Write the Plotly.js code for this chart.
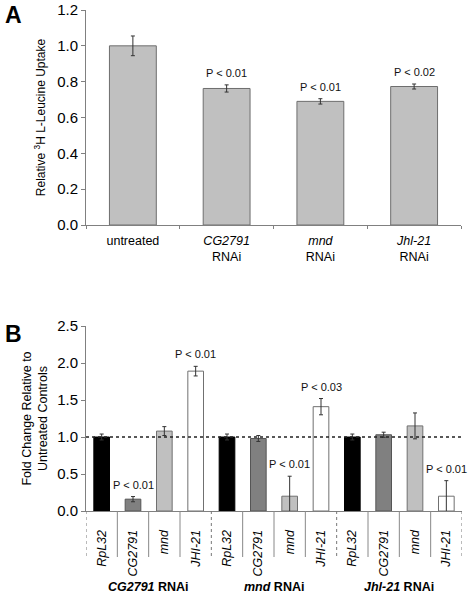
<!DOCTYPE html>
<html><head><meta charset="utf-8">
<script src="https://cdn.plot.ly/plotly-3.0.1.min.js"></script>
<style>html,body{margin:0;padding:0;background:#fff}#c{width:470px;height:600px}</style>
</head><body><div id="c"></div>
<script>
// Panel A data
var catsA = ["untreated", "<i>CG2791</i><br>RNAi", "<i>mnd</i><br>RNAi", "<i>Jhl-21</i><br>RNAi"];
var valsA = [1.0, 0.762, 0.69, 0.773];
var errA = [0.055, 0.02, 0.015, 0.014];
var pA = ["", "P < 0.01", "P < 0.01", "P < 0.02"];
var yTicksA = [0, 0.2, 0.4, 0.6, 0.8, 1.0, 1.2];

// Panel B data
var genesB = ["RpL32", "CG2791", "mnd", "JHI-21"];
var groupsB = ["<i>CG2791</i> RNAi", "<i>mnd</i> RNAi", "<i>Jhl-21</i> RNAi"];
var valsB = [[1.0, 0.16, 1.08, 1.89], [1.0, 0.98, 0.2, 1.41], [1.0, 1.03, 1.15, 0.2]];
var errB = [[0.04, 0.035, 0.06, 0.065], [0.04, 0.04, 0.27, 0.11], [0.04, 0.035, 0.175, 0.21]];
var pB = [["", "P < 0.01", "", "P < 0.01"], ["", "", "P < 0.01", "P < 0.03"], ["", "", "", "P < 0.01"]];
var yTicksB = [0, 0.5, 1.0, 1.5, 2.0, 2.5];
var refLineB = 1.0;

var colorsB = ["#000000", "#808080", "#c0c0c0", "#ffffff"];
var edgesB = ["#000000", "#555555", "#707070", "#707070"];

var FONT = "Liberation Sans, Arial, sans-serif";
var W = 470, H = 600;
function py(pix) { return (H - pix) / H; }
function px(pix) { return pix / W; }

var traces = [];
traces.push({
  type: "bar", x: catsA, y: valsA, xaxis: "x", yaxis: "y", width: 0.5,
  marker: {color: "#c0c0c0", line: {color: "#6e6e6e", width: 1}},
  error_y: {type: "data", array: errA, visible: true, color: "#333", thickness: 1, width: 2},
  hoverinfo: "skip", showlegend: false
});

var nG = genesB.length;
var tickvals = [], ticktext = [];
for (var g = 0; g < groupsB.length; g++) {
  for (var k = 0; k < nG; k++) { tickvals.push(g * nG + k); ticktext.push("<i>" + genesB[k] + "</i>"); }
}
for (var k = 0; k < nG; k++) {
  var xs = [], ys = [], es = [];
  for (var g = 0; g < groupsB.length; g++) { xs.push(g * nG + k); ys.push(valsB[g][k]); es.push(errB[g][k]); }
  traces.push({
    type: "bar", x: xs, y: ys, xaxis: "x2", yaxis: "y2", width: 0.5,
    marker: {color: colorsB[k], line: {color: edgesB[k], width: 1}},
    error_y: {type: "data", array: es, visible: true, color: "#333", thickness: 1, width: 2},
    hoverinfo: "skip", showlegend: false
  });
}

var annotations = [];
for (var i = 0; i < catsA.length; i++) {
  if (pA[i]) annotations.push({xref: "x", yref: "y", x: catsA[i], y: valsA[i] + errA[i], text: pA[i],
    showarrow: false, yanchor: "bottom", yshift: 4, font: {family: FONT, size: 11, color: "#111"}});
}
for (var g = 0; g < groupsB.length; g++) {
  for (var k = 0; k < nG; k++) {
    if (pB[g][k]) annotations.push({xref: "x2", yref: "y2", x: g * nG + k, y: valsB[g][k] + errB[g][k], text: pB[g][k],
      showarrow: false, yanchor: "bottom", yshift: 4, font: {family: FONT, size: 11, color: "#111"}});
  }
  annotations.push({xref: "x2", yref: "paper", x: g * nG + (nG - 1) / 2, y: py(587), yanchor: "middle",
    text: "<b>" + groupsB[g] + "</b>", showarrow: false, font: {family: FONT, size: 12.5, color: "#000"}});
}
annotations.push({xref: "paper", yref: "paper", x: px(3), y: py(15), xanchor: "left", yanchor: "middle",
  text: "<b>A</b>", showarrow: false, font: {family: FONT, size: 23, color: "#000"}});
annotations.push({xref: "paper", yref: "paper", x: px(3), y: py(334), xanchor: "left", yanchor: "middle",
  text: "<b>B</b>", showarrow: false, font: {family: FONT, size: 23, color: "#000"}});

var shapes = [];
var nB = groupsB.length * nG;
for (var b = 0; b <= nB; b++) {
  var isGroup = (b % nG === 0);
  shapes.push({type: "line", xref: "x2", yref: "paper", x0: b - 0.5, x1: b - 0.5, y0: py(511), y1: py(557),
    line: {color: isGroup ? "#777" : "#888", width: 1, dash: isGroup ? "dot" : "solid"}});
}
shapes.push({type: "line", xref: "x2", yref: "y2", x0: -0.5, x1: nB - 0.5, y0: refLineB, y1: refLineB,
  line: {color: "#222", width: 1.5, dash: "dot"}});

var axisBase = {showgrid: false, zeroline: false, showline: true, linecolor: "#808080", linewidth: 1,
  tickcolor: "#808080", tickfont: {family: FONT, size: 12.5, color: "#000"}};

var layout = {
  width: W, height: H, margin: {l: 0, r: 0, t: 0, b: 0},
  paper_bgcolor: "#fff", plot_bgcolor: "#fff", showlegend: false,
  xaxis: Object.assign({}, axisBase, {domain: [px(86), px(461)], anchor: "y", type: "category",
    ticks: "outside", tickson: "boundaries", ticklen: 3, ticklabelstandoff: 4, range: [-0.5, 3.5]}),
  yaxis: Object.assign({}, axisBase, {domain: [py(225), py(10)], anchor: "x", range: [0, 1.2],
    tickvals: yTicksA, ticktext: yTicksA.map(function (v) { return v.toFixed(1); }),
    ticks: "outside", ticklen: 4, tickfont: {family: FONT, size: 15, color: "#000"},
    title: {text: "Relative <sup>3</sup>H L-Leucine Uptake", standoff: 8, font: {family: FONT, size: 12, color: "#000"}}}),
  xaxis2: Object.assign({}, axisBase, {domain: [px(86), px(462)], anchor: "y2", range: [-0.5, nB - 0.5],
    tickvals: tickvals, ticktext: ticktext, tickangle: -90, ticks: "", ticklabelstandoff: 13}),
  yaxis2: Object.assign({}, axisBase, {domain: [py(511), py(326)], anchor: "x2", range: [0, 2.5],
    tickvals: yTicksB, ticktext: yTicksB.map(function (v) { return v.toFixed(1); }),
    ticks: "outside", ticklen: 4, tickfont: {family: FONT, size: 15, color: "#000"},
    title: {text: "Fold Change Relative to<br>Untreated Controls", standoff: 6, font: {family: FONT, size: 12.5, color: "#000"}}}),
  annotations: annotations, shapes: shapes
};
Plotly.newPlot("c", traces, layout, {staticPlot: true, displayModeBar: false});
</script></body></html>
